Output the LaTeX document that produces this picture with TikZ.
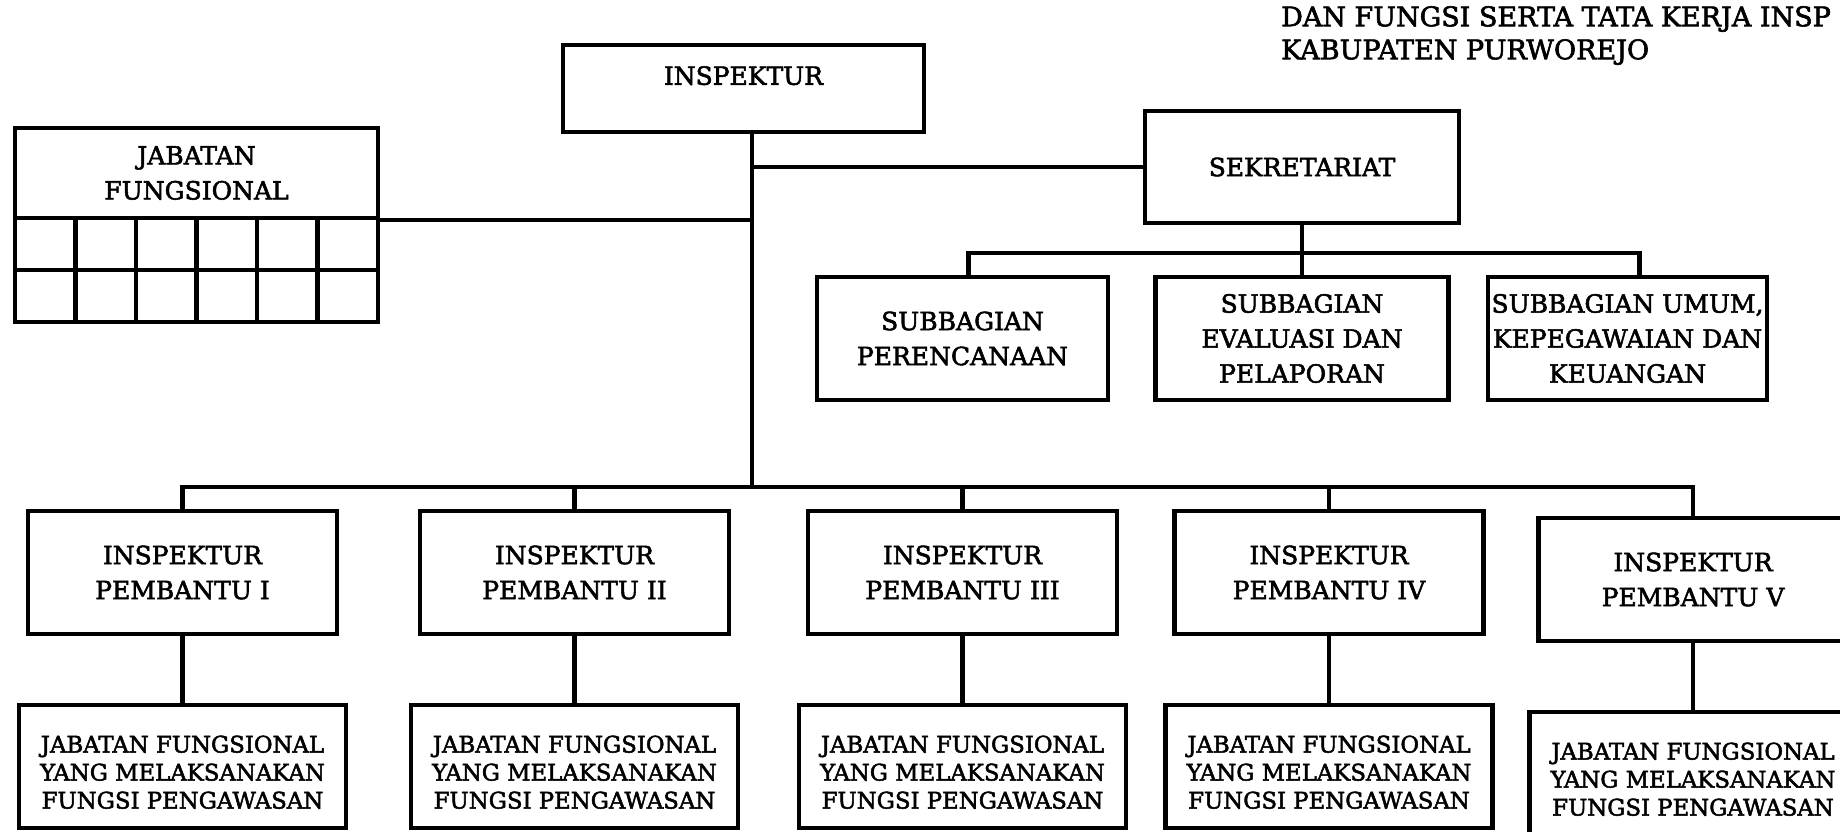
\documentclass[tikz,border=0pt]{standalone}
\usepackage{fontspec}
\setmainfont{DejaVu Serif}[BoldFont={DejaVu Serif},BoldFeatures={FakeBold=2.2}]

\begin{document}
\begin{tikzpicture}[x=0.5pt,y=-0.5pt,line width=2.2pt,
    box/.style={draw,align=center,inner sep=0pt,font=\bfseries\fontsize{12.5}{17.5}\selectfont},
    jfbox/.style={draw,align=center,inner sep=0pt,minimum width=163.5pt,minimum height=61.5pt,
        text height=42pt,text depth=0pt,font=\bfseries\fontsize{11.4}{14}\selectfont}]
    \useasboundingbox (0,0) rectangle (1840,831);

    % Title (cut at the right edge)
    \node[anchor=north west,inner sep=0pt,align=left,font=\bfseries\fontsize{13.5}{16.5}\selectfont] (title) at (1279,4)
        {DAN FUNGSI SERTA TATA KERJA INSP\\KABUPATEN PURWOREJO};

    % Inspektur
    \node[box,minimum width=180.5pt,minimum height=43.5pt,text depth=13pt] (insp) at (743.5,88.5) {INSPEKTUR};
    \coordinate (trunk) at (752,487);

    % Jabatan fungsional with its grid
    \node[box,minimum width=181.5pt,minimum height=45pt] (jf) at (196.5,173) {JABATAN\\FUNGSIONAL};
    \foreach \i in {0,...,5}
        \foreach \j in {0,1}
            \draw ({15+\i*60.5},{218+\j*52}) rectangle ++(60.5,52);

    % Sekretariat and its subbagian
    \node[box,minimum width=157pt,minimum height=56pt] (sek) at (1302,167) {SEKRETARIAT};
    \node[box,minimum width=145.5pt,minimum height=61.5pt] (sp) at (962.5,338.5) {SUBBAGIAN\\PERENCANAAN};
    \node[box,minimum width=146.5pt,minimum height=61.5pt] (se) at (1302,338.5) {SUBBAGIAN\\EVALUASI DAN\\PELAPORAN};
    \node[box,minimum width=139.5pt,minimum height=61.5pt] (su) at (1627.5,338.5) {SUBBAGIAN UMUM,\\KEPEGAWAIAN DAN\\KEUANGAN};
    \coordinate (sbus) at (1302,253);

    % Inspektur pembantu and their jabatan fungsional
    \foreach \x/\n/\r/\d in {182.5/1/I/0, 574.5/2/II/0, 962.5/3/III/0, 1329/4/IV/0, 1693/5/V/7}{
        \node[box,minimum width=154.5pt,minimum height=61.5pt] (ip\n) at (\x,{572.5+\d}) {INSPEKTUR\\PEMBANTU \r};
        \node[jfbox] (fp\n) at (\x,{766.5+\d}) {JABATAN FUNGSIONAL\\YANG MELAKSANAKAN\\FUNGSI PENGAWASAN};
        \draw (ip\n) -- (fp\n);
    }

    % Lines
    \draw (insp.south -| trunk) -- (trunk);
    \draw (trunk |- sek.west) -- (sek.west);
    \draw (jf.south east) -- (jf.south east -| trunk);
    \draw (ip1.north) |- (trunk) -| (ip5.north);
    \foreach \n in {2,3,4}
        \draw (ip\n.north) -- (ip\n.north |- trunk);
    \draw (sek) -- (se);
    \draw ([xshift=3pt]sp.north) |- (sbus) -| ([xshift=6pt]su.north);
\end{tikzpicture}
\end{document}
